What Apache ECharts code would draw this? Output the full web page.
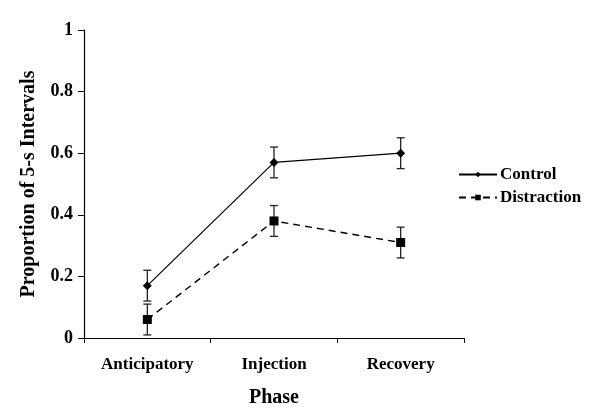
<!DOCTYPE html>
<html><head><meta charset="utf-8">
<script src="https://cdn.jsdelivr.net/npm/echarts@6/dist/echarts.min.js"></script>
<style>html,body{margin:0;padding:0;background:#fff}#c{width:608px;height:420px}</style>
</head><body><div id="c"></div>
<script>
const categories = ['Anticipatory', 'Injection', 'Recovery'];
const controlValues = [0.17, 0.57, 0.60];
const controlErr = [0.05, 0.05, 0.05];
const distractionValues = [0.06, 0.38, 0.31];
const distractionErr = [0.05, 0.05, 0.05];
const yTicks = [0, 0.2, 0.4, 0.6, 0.8, 1];

const FONT = '"Liberation Serif", "DejaVu Serif", serif';

function errData(vals, errs) {
  return vals.map((v, i) => [i, v - errs[i], v + errs[i]]);
}
function errSeries(name, vals, errs) {
  return {
    type: 'custom', name: name + '_err', z: 1,
    data: errData(vals, errs),
    renderItem: function (params, api) {
      const lo = api.coord([api.value(0), api.value(1)]);
      const hi = api.coord([api.value(0), api.value(2)]);
      const w = 4;
      const st = { stroke: '#222', lineWidth: 1.3 };
      return { type: 'group', children: [
        { type: 'line', shape: { x1: lo[0], y1: lo[1], x2: hi[0], y2: hi[1] }, style: st },
        { type: 'line', shape: { x1: lo[0]-w, y1: lo[1], x2: lo[0]+w, y2: lo[1] }, style: st },
        { type: 'line', shape: { x1: hi[0]-w, y1: hi[1], x2: hi[0]+w, y2: hi[1] }, style: st }
      ]};
    },
    silent: true
  };
}

const chart = echarts.init(document.getElementById('c'));
chart.setOption({
  animation: false,
  backgroundColor: '#fff',
  grid: { left: 84, right: 144, top: 30, bottom: 82, containLabel: false },
  legend: {
    data: ['Control', 'Distraction'],
    orient: 'vertical', left: 453, top: 161,
    itemWidth: 38, itemHeight: 7, itemGap: 6,
    textStyle: { fontFamily: FONT, fontWeight: 'bold', fontSize: 17, color: '#000', padding: [0,0,0,-2] }
  },
  xAxis: {
    type: 'category', data: categories, boundaryGap: true,
    axisLine: { lineStyle: { color: '#000', width: 1.2 } },
    axisTick: { show: true, length: 5, lineStyle: { color: '#000' } },
    axisLabel: { fontFamily: FONT, fontWeight: 'bold', fontSize: 17, color: '#000', margin: 18 },
    name: 'Phase', nameLocation: 'middle', nameGap: 50,
    nameTextStyle: { fontFamily: FONT, fontWeight: 'bold', fontSize: 20, color: '#000' }
  },
  yAxis: {
    type: 'value', min: 0, max: 1, interval: 0.2,
    axisLine: { show: true, lineStyle: { color: '#000', width: 1.2 } },
    axisTick: { show: true, length: 6, lineStyle: { color: '#000' } },
    splitLine: { show: false },
    axisLabel: { fontFamily: FONT, fontWeight: 'bold', fontSize: 18, color: '#000', margin: 11,
      formatter: v => yTicks.indexOf(Math.round(v*10)/10) >= 0 ? String(Math.round(v*10)/10) : '' },
    name: 'Proportion of 5-s Intervals', nameLocation: 'middle', nameGap: 45, nameRotate: 90,
    nameTextStyle: { fontFamily: FONT, fontWeight: 'bold', fontSize: 20, color: '#000' }
  },
  series: [
    errSeries('Control', controlValues, controlErr),
    errSeries('Distraction', distractionValues, distractionErr),
    {
      name: 'Control', type: 'line', data: controlValues, z: 3,
      symbol: 'diamond', symbolSize: 9,
      lineStyle: { color: '#000', width: 1.2 },
      itemStyle: { color: '#000' }
    },
    {
      name: 'Distraction', type: 'line', data: distractionValues, z: 3,
      symbol: 'rect', symbolSize: 9,
      lineStyle: { color: '#000', width: 1.4, type: [7, 5] },
      itemStyle: { color: '#000' }
    }
  ]
});
</script></body></html>
